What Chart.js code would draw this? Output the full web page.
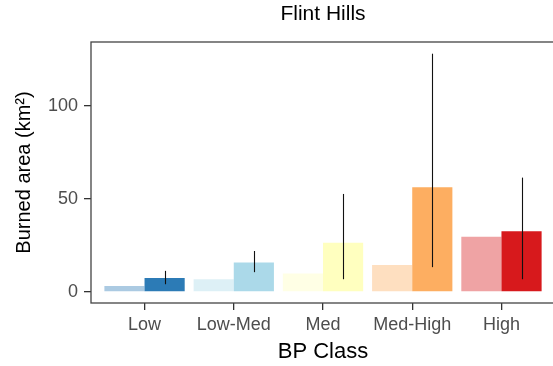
<!DOCTYPE html>
<html><head><meta charset="utf-8">
<script src="https://cdn.jsdelivr.net/npm/chart.js@4/dist/chart.umd.min.js"></script>
<style>html,body{margin:0;padding:0;background:#fff;overflow:hidden;width:553px;height:366px}canvas{display:block}</style>
</head><body>
<canvas id="c" width="560" height="366"></canvas>
<script>
const categories = ["Low", "Low-Med", "Med", "Med-High", "High"];
const lightValues = [3.2, 6.8, 9.9, 14.5, 29.7];
const darkValues = [7.4, 15.8, 26.5, 56.3, 32.6];
const errLow = [4.1, 10.6, 6.8, 13.3, 6.8];
const errHigh = [11.3, 22.0, 52.7, 128.2, 61.5];
const yTicks = [0, 50, 100];
const palette = ["#2c7bb6", "#abd9e9", "#ffffbf", "#fdae61", "#d7191c"];

function alpha(hex, a) {
  const n = parseInt(hex.slice(1), 16);
  return `rgba(${(n >> 16) & 255},${(n >> 8) & 255},${n & 255},${a})`;
}

const FONT = "'Liberation Sans', Arial, sans-serif";

const errorBars = {
  id: 'errorBars',
  afterDatasetsDraw(chart) {
    const meta = chart.getDatasetMeta(1);
    const ys = chart.scales.y;
    const ctx = chart.ctx;
    ctx.save();
    ctx.strokeStyle = '#111';
    ctx.lineWidth = 1.1;
    meta.data.forEach((bar, i) => {
      const x = Math.round(bar.x) + 0.5;
      ctx.beginPath();
      ctx.moveTo(x, ys.getPixelForValue(errLow[i]));
      ctx.lineTo(x, ys.getPixelForValue(errHigh[i]));
      ctx.stroke();
    });
    ctx.restore();
  }
};

const panelBorder = {
  id: 'panelBorder',
  afterDraw(chart) {
    const {left, top, right, bottom} = chart.chartArea;
    const ctx = chart.ctx;
    ctx.save();
    ctx.strokeStyle = '#444';
    ctx.lineWidth = 1.3;
    ctx.strokeRect(left, top, right - left, bottom - top);
    ctx.restore();
  }
};

new Chart(document.getElementById('c'), {
  type: 'bar',
  data: {
    datasets: [
      {
        data: lightValues.map((v, i) => ({x: i + 1, y: v})),
        backgroundColor: palette.map(c => alpha(c, 0.4)),
        borderWidth: 0
      },
      {
        data: darkValues.map((v, i) => ({x: i + 1, y: v})),
        backgroundColor: palette,
        borderWidth: 0
      }
    ]
  },
  options: {
    responsive: false,
    devicePixelRatio: 1,
    animation: false,
    categoryPercentage: 0.9,
    barPercentage: 1.0,
    layout: {padding: {left: 0, right: 5, top: 0, bottom: 0}},
    plugins: {
      legend: {display: false},
      tooltip: {enabled: false},
      title: {
        display: true,
        text: 'Flint Hills',
        fullSize: false,
        color: '#000',
        font: {family: FONT, size: 21, weight: 'normal', lineHeight: 1.2},
        padding: {top: 1.5, bottom: 15.3}
      }
    },
    scales: {
      x: {
        type: 'linear',
        offset: false,
        min: 0.4,
        max: 5.6,
        afterBuildTicks(scale) { scale.ticks = categories.map((c, i) => ({value: i + 1})); },
        afterFit(scale) { scale.height = 63; },
        ticks: {
          autoSkip: false,
          maxRotation: 0,
          color: '#4d4d4d',
          font: {family: FONT, size: 18},
          padding: 4,
          callback: (v) => categories[Math.round(v) - 1] || ''
        },
        grid: {offset: false, drawOnChartArea: false, drawTicks: true, tickLength: 7, color: '#333', lineWidth: 1.3},
        border: {display: false},
        title: {
          display: true,
          text: 'BP Class',
          color: '#000',
          font: {family: FONT, size: 22, lineHeight: 1.2},
          padding: {top: 0, bottom: 1}
        }
      },
      y: {
        min: -6.0,
        max: 134.5,
        afterBuildTicks(scale) { scale.ticks = yTicks.map(v => ({value: v})); },
        afterFit(scale) { scale.width = 91; },
        ticks: {
          color: '#4d4d4d',
          font: {family: FONT, size: 18},
          padding: 6
        },
        grid: {drawOnChartArea: false, drawTicks: true, tickLength: 7, color: '#333', lineWidth: 1.3},
        border: {display: false},
        title: {
          display: true,
          text: 'Burned area (km²)',
          color: '#000',
          font: {family: FONT, size: 20, lineHeight: 1.2},
          padding: {top: 12, bottom: 0}
        }
      }
    }
  },
  plugins: [errorBars, panelBorder]
});
</script>
</body></html>
